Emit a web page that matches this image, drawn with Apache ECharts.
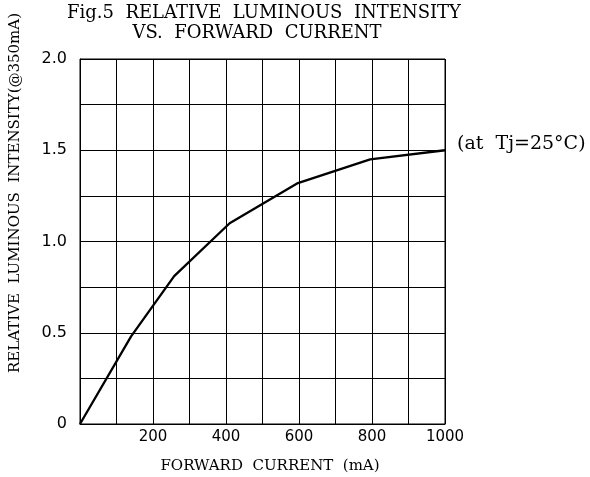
<!DOCTYPE html>
<html>
<head>
<meta charset="utf-8">
<script src="https://cdn.jsdelivr.net/npm/echarts@6/dist/echarts.min.js"></script>
<style>html,body{margin:0;padding:0;background:#fff;}#c{width:590px;height:477px;}</style>
</head>
<body>
<div id="c"></div>
<script>
const currentMA = [0, 140, 258, 410, 597, 795, 1000];
const relIntensity = [0, 0.48, 0.81, 1.10, 1.32, 1.45, 1.50];
const xTickLabels = [200, 400, 600, 800, 1000];
const yTickLabels = ['0', '0.5', '1.0', '1.5', '2.0'];
const titleLines = ['Fig.5  RELATIVE  LUMINOUS  INTENSITY', 'VS.  FORWARD  CURRENT'];
const xName = 'FORWARD  CURRENT  (mA)';
const yName = 'RELATIVE  LUMINOUS  INTENSITY(@350mA)';
const note = '(at  Tj=25°C)';

const chart = echarts.init(document.getElementById('c'), null, {renderer: 'canvas'});
const serif = '"DejaVu Serif"';
const sans = 'DejaVu Sans';
chart.setOption({
  animation: false,
  backgroundColor: '#fff',
  grid: {left: 80, right: 145, top: 59, bottom: 53, show: true, borderColor: '#000', borderWidth: 1},
  xAxis: {
    type: 'value', min: 0, max: 1000, interval: 100,
    axisLine: {show: true, lineStyle: {color: '#000', width: 1}},
    axisTick: {show: false},
    splitLine: {show: true, lineStyle: {color: '#000', width: 1}},
    axisLabel: {
      color: '#000', fontFamily: sans, fontSize: 15, margin: 6,
      formatter: v => xTickLabels.indexOf(v) >= 0 ? String(v) : ''
    }
  },
  yAxis: {
    type: 'value', min: 0, max: 2, interval: 0.25,
    axisLine: {show: true, lineStyle: {color: '#000', width: 1}},
    axisTick: {show: false},
    splitLine: {show: true, lineStyle: {color: '#000', width: 1}},
    axisLabel: {
      color: '#000', fontFamily: sans, fontSize: 16, margin: 13,
      formatter: v => {
        const i = Math.round(v / 0.5);
        return Math.abs(v - i * 0.5) < 1e-9 ? yTickLabels[i] : '';
      }
    }
  },
  series: [{
    type: 'line',
    data: currentMA.map((x, i) => [x, relIntensity[i]]),
    symbol: 'none',
    lineStyle: {color: '#000', width: 2.3},
    clip: false
  }],
  graphic: [
    {type: 'text', style: {text: titleLines[0], font: '18px ' + serif, fill: '#000', textAlign: 'center', textVerticalAlign: 'middle'}, x: 264, y: 13},
    {type: 'text', style: {text: titleLines[1], font: '18px ' + serif, fill: '#000', textAlign: 'center', textVerticalAlign: 'middle'}, x: 257, y: 33},
    {type: 'text', style: {text: xName, font: '15px ' + serif, fill: '#000', textAlign: 'center', textVerticalAlign: 'middle'}, x: 270, y: 466},
    {type: 'text', style: {text: yName, font: '15px ' + serif, fill: '#000', textAlign: 'center', textVerticalAlign: 'middle'}, x: 15, y: 193, rotation: Math.PI / 2},
    {type: 'text', style: {text: note, font: '19px ' + serif, fill: '#000', textAlign: 'left', textVerticalAlign: 'middle'}, x: 457, y: 144}
  ]
});
</script>
</body>
</html>
